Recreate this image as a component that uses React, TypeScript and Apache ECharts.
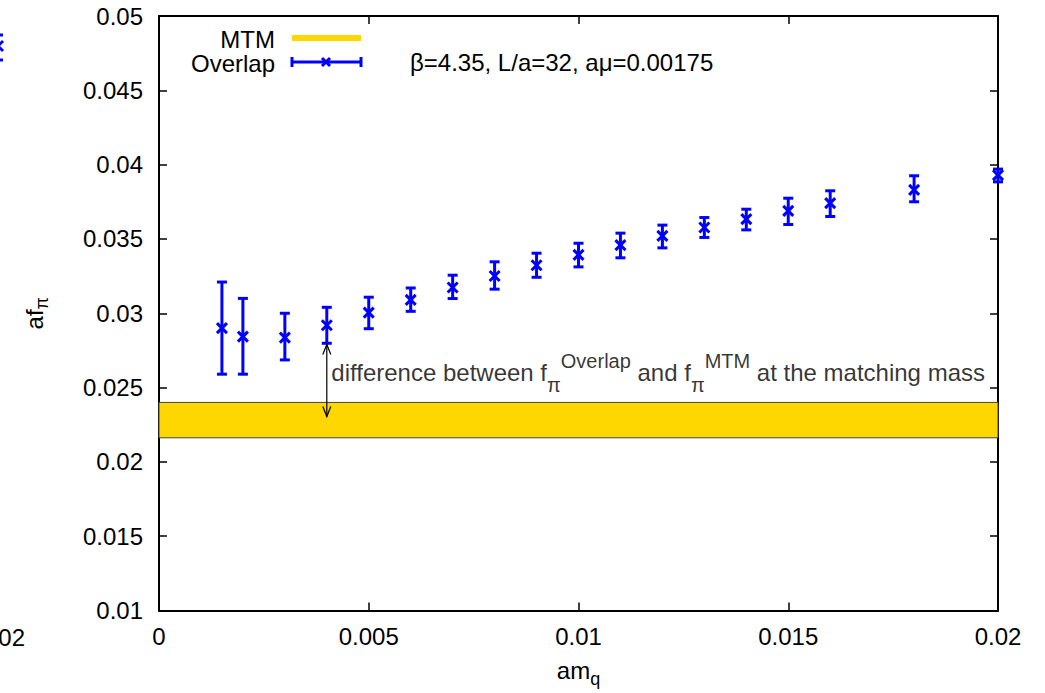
import React, { useEffect, useRef } from "react";
import * as echarts from "echarts";

const FONT = "'Liberation Sans', Arial, Helvetica, sans-serif";
const BLUE = "#0000ff";
const GOLD = "#ffd700";

// Overlap data: am_q, af_pi, lower and upper error ends
const amq = [0.0015, 0.002, 0.003, 0.004, 0.005, 0.006, 0.007, 0.008, 0.009, 0.01, 0.011, 0.012, 0.013, 0.014, 0.015, 0.016, 0.018, 0.02];
const fpi = [0.029, 0.02843, 0.02836, 0.02919, 0.03004, 0.0309, 0.03173, 0.03251, 0.03323, 0.03393, 0.03458, 0.03521, 0.03577, 0.03633, 0.03689, 0.03741, 0.0383, 0.03929];
const fpiLo = [0.0259, 0.0259, 0.02686, 0.02798, 0.02896, 0.03013, 0.03099, 0.03162, 0.03242, 0.03312, 0.03373, 0.0344, 0.0351, 0.03561, 0.03597, 0.03651, 0.0375, 0.03884];
const fpiHi = [0.0321, 0.031, 0.03, 0.0304, 0.03108, 0.0317, 0.03256, 0.03346, 0.03404, 0.03471, 0.03539, 0.03593, 0.03644, 0.037, 0.03774, 0.03824, 0.03925, 0.0397];

// MTM band
const mtmX = [0, 0.02];
const mtmLo = 0.02162;
const mtmHi = 0.024;

// arrow annotation
const arrowX = 0.004;
const arrowFrom = 0.0279;
const arrowTo = 0.02305;
const noteY = 0.026;

const xTicks = { min: 0, max: 0.02, interval: 0.005 };
const yTicks = { min: 0.01, max: 0.05, interval: 0.005 };

const fmt = (v: number) => String(parseFloat(v.toFixed(4)));

export default function App() {
  const ref = useRef<HTMLDivElement>(null);
  useEffect(() => {
    if (!ref.current) return;
    const chart = echarts.init(ref.current, null, { renderer: "svg" });
    const axisLine = { show: true, onZero: false, lineStyle: { color: "#000", width: 2 } };
    const axisTick = { show: true, inside: true, length: 8, lineStyle: { color: "#000", width: 1.5 } };
    const richName = {
      a: { fontSize: 24, fontFamily: FONT, color: "#000", lineHeight: 34 },
      s: { fontSize: 18, fontFamily: FONT, color: "#000", verticalAlign: "bottom", lineHeight: 18 },
    };
    const richNote = {
      t: { fontSize: 24, fontFamily: FONT, color: "#000", lineHeight: 44 },
      sub: { fontSize: 20, fontFamily: FONT, color: "#000", verticalAlign: "bottom", lineHeight: 20 },
      sup: { fontSize: 20, fontFamily: FONT, color: "#000", verticalAlign: "top", lineHeight: 20 },
    };

    const errData = amq.map((x, i) => [x, fpi[i], fpiLo[i], fpiHi[i]]);

    const option: any = {
      animation: false,
      backgroundColor: "#fff",
      textStyle: { fontFamily: FONT },
      grid: { left: 159, right: 47, top: 16, bottom: 82.5 },
      xAxis: [
        {
          type: "value", ...xTicks, position: "bottom",
          axisLine, axisTick,
          axisLabel: { fontSize: 24, color: "#000", margin: 14, fontFamily: FONT, formatter: fmt },
          splitLine: { show: false },
          name: "{a|am}{s|q}", nameLocation: "middle", nameGap: 43,
          nameTextStyle: { rich: richName },
        },
        {
          type: "value", ...xTicks, position: "top",
          axisLine, axisTick, axisLabel: { show: false }, splitLine: { show: false },
        },
      ],
      yAxis: [
        {
          type: "value", ...yTicks, position: "left",
          axisLine, axisTick,
          axisLabel: { fontSize: 24, color: "#000", margin: 16, fontFamily: FONT, formatter: fmt },
          splitLine: { show: false },
          name: "{a|af}{s|π}", nameLocation: "middle", nameGap: 108,
          nameTextStyle: { rich: richName },
        },
        {
          type: "value", ...yTicks, position: "right",
          axisLine, axisTick, axisLabel: { show: false }, splitLine: { show: false },
        },
      ],
      series: [
        {
          name: "MTM",
          type: "custom",
          z: 1,
          data: [[mtmX[0], mtmLo, mtmX[1], mtmHi]],
          renderItem: (_p: any, api: any) => {
            const a = api.coord([api.value(0), api.value(1)]);
            const b = api.coord([api.value(2), api.value(3)]);
            return {
              type: "rect",
              shape: { x: a[0], y: b[1], width: b[0] - a[0], height: a[1] - b[1] },
              style: { fill: GOLD, stroke: "#444", lineWidth: 1 },
            };
          },
        },
        {
          name: "Overlap",
          type: "custom",
          z: 3,
          data: errData,
          renderItem: (_p: any, api: any) => {
            const c = api.coord([api.value(0), api.value(1)]);
            const lo = api.coord([api.value(0), api.value(2)]);
            const hi = api.coord([api.value(0), api.value(3)]);
            const cw = 5;
            const m = 5;
            const st = { stroke: BLUE, lineWidth: 3 };
            return {
              type: "group",
              children: [
                { type: "line", shape: { x1: c[0], y1: hi[1], x2: c[0], y2: lo[1] }, style: st },
                { type: "line", shape: { x1: c[0] - cw, y1: hi[1], x2: c[0] + cw, y2: hi[1] }, style: st },
                { type: "line", shape: { x1: c[0] - cw, y1: lo[1], x2: c[0] + cw, y2: lo[1] }, style: st },
                { type: "line", shape: { x1: c[0] - m, y1: c[1] - m, x2: c[0] + m, y2: c[1] + m }, style: st },
                { type: "line", shape: { x1: c[0] - m, y1: c[1] + m, x2: c[0] + m, y2: c[1] - m }, style: st },
              ],
            };
          },
        },
        {
          name: "arrow",
          type: "custom",
          z: 4,
          data: [[arrowX, arrowFrom, arrowTo]],
          renderItem: (_p: any, api: any) => {
            const a = api.coord([api.value(0), api.value(1)]);
            const b = api.coord([api.value(0), api.value(2)]);
            const st = { stroke: "#000", lineWidth: 1.2, fill: "none" };
            const hl = 10, hw = 4;
            return {
              type: "group",
              children: [
                { type: "line", shape: { x1: a[0], y1: a[1], x2: b[0], y2: b[1] }, style: st },
                { type: "polyline", shape: { points: [[a[0] - hw, a[1] + hl], [a[0], a[1]], [a[0] + hw, a[1] + hl]] }, style: st },
                { type: "polyline", shape: { points: [[b[0] - hw, b[1] - hl], [b[0], b[1]], [b[0] + hw, b[1] - hl]] }, style: st },
              ],
            };
          },
        },
        {
          name: "note",
          type: "scatter",
          z: 5,
          symbolSize: 1,
          itemStyle: { color: "transparent" },
          data: [[arrowX, noteY]],
          label: {
            show: true,
            position: "right",
            distance: 4,
            color: "#000",
            textBorderWidth: 0,
            formatter:
              "{t|difference between f}{sub|π}{sup|Overlap}{t| and f}{sub|π}{sup|MTM}{t| at the matching mass}",
            rich: richNote,
          },
        },
      ],
      graphic: [
        { type: "text", right: 1045 - 275, top: 27, style: { text: "MTM", font: `24px ${FONT}`, fill: "#000", lineHeight: 22 } },
        { type: "rect", shape: { x: 292, y: 35, width: 69, height: 6 }, style: { fill: GOLD } },
        { type: "text", right: 1045 - 275, top: 51, style: { text: "Overlap", font: `24px ${FONT}`, fill: "#000", lineHeight: 22 } },
        { type: "line", shape: { x1: 292, y1: 62, x2: 361, y2: 62 }, style: { stroke: BLUE, lineWidth: 3 } },
        { type: "line", shape: { x1: 292, y1: 57, x2: 292, y2: 67 }, style: { stroke: BLUE, lineWidth: 3 } },
        { type: "line", shape: { x1: 361, y1: 57, x2: 361, y2: 67 }, style: { stroke: BLUE, lineWidth: 3 } },
        { type: "line", shape: { x1: 322, y1: 58, x2: 330, y2: 66 }, style: { stroke: BLUE, lineWidth: 3 } },
        { type: "line", shape: { x1: 322, y1: 66, x2: 330, y2: 58 }, style: { stroke: BLUE, lineWidth: 3 } },
        { type: "text", left: 410, top: 50, style: { text: "β=4.35, L/a=32, aμ=0.00175", font: `24px ${FONT}`, fill: "#000", lineHeight: 22 } },
        // fragments of the neighbouring panel, cut by the image edge
        { type: "text", right: 1045 - 25, top: 625, style: { text: "0.02", font: `24px ${FONT}`, fill: "#000" } },
        { type: "line", shape: { x1: -2, y1: 35, x2: -2, y2: 60 }, style: { stroke: BLUE, lineWidth: 3 } },
        { type: "line", shape: { x1: -7, y1: 35, x2: 3, y2: 35 }, style: { stroke: BLUE, lineWidth: 3 } },
        { type: "line", shape: { x1: -7, y1: 60, x2: 3, y2: 60 }, style: { stroke: BLUE, lineWidth: 3 } },
        { type: "line", shape: { x1: -7, y1: 41, x2: 3, y2: 51 }, style: { stroke: BLUE, lineWidth: 3 } },
        { type: "line", shape: { x1: -7, y1: 51, x2: 3, y2: 41 }, style: { stroke: BLUE, lineWidth: 3 } },
      ],
    };
    chart.setOption(option);
    return () => chart.dispose();
  }, []);
  return (
    <div
      ref={ref}
      style={{ position: "fixed", left: 0, top: 0, width: 1045, height: 693, background: "#fff" }}
    />
  );
}
